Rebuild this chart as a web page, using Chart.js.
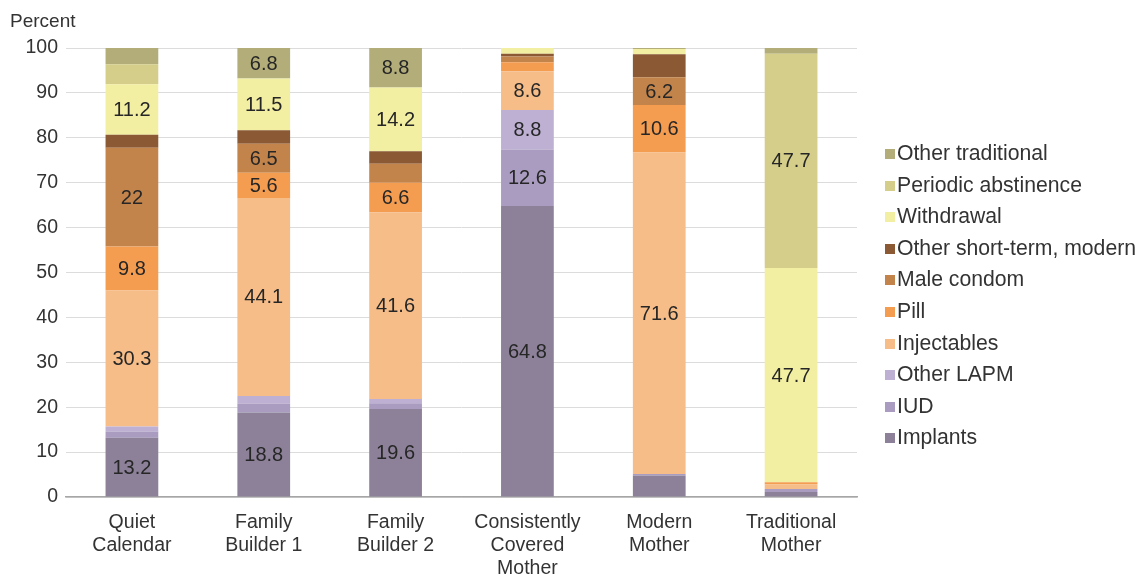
<!DOCTYPE html>
<html>
<head>
<meta charset="utf-8">
<script src="https://cdn.jsdelivr.net/npm/chart.js@4/dist/chart.umd.min.js"></script>
<style>
  body { margin: 0; background: #fff; font-family: "Liberation Sans", Arial, sans-serif; }
  #wrap { position: relative; width: 1139px; height: 576px; }
  #yTitle { position: absolute; left: 10px; top: 10px; font-size: 19px; color: #333; }
  #legend { position: absolute; left: 885px; top: 141px; list-style: none; margin: 0; padding: 0; }
  #legend li { height: 31.6px; line-height: 24px; font-size: 21.2px; color: #333; white-space: nowrap; }
  #legend span { display: inline-block; width: 10px; height: 10px; margin-right: 2px; vertical-align: 1px; }
</style>
</head>
<body>
<div id="wrap">
  <canvas id="myChart" width="1139" height="576"></canvas>
  <div id="yTitle">Percent</div>
  <ul id="legend"></ul>
</div>
<script>
'use strict';

let groups = [['Quiet', 'Calendar'], ['Family', 'Builder 1'], ['Family', 'Builder 2'],
  ['Consistently', 'Covered', 'Mother'], ['Modern', 'Mother'], ['Traditional', 'Mother']];

// methods, stacked from the bottom up
let methods = ['Implants', 'IUD', 'Other LAPM', 'Injectables', 'Pill', 'Male condom',
  'Other short-term, modern', 'Withdrawal', 'Periodic abstinence', 'Other traditional'];

let implants = [13.2, 18.8, 19.6, 64.8, 4.8, 1.1];
let iud = [1.4, 2.0, 1.3, 12.6, 0.3, 0.7];
let otherLapm = [1.1, 1.7, 0.9, 8.8, 0, 0];
let injectables = [30.3, 44.1, 41.6, 8.6, 71.6, 1.0];
let pill = [9.8, 5.6, 6.6, 2.0, 10.6, 0.5];
let maleCondom = [22, 6.5, 4.2, 1.3, 6.2, 0];
let otherShortTerm = [2.9, 3.0, 2.8, 0.6, 5.1, 0];
let withdrawal = [11.2, 11.5, 14.2, 1.3, 1.2, 47.7];
let periodic = [4.5, 0, 0, 0, 0, 47.7];
let otherTraditional = [3.6, 6.8, 8.8, 0, 0.2, 1.3];

let yTicks = [0, 10, 20, 30, 40, 50, 60, 70, 80, 90, 100];

let seriesValues = [implants, iud, otherLapm, injectables, pill, maleCondom,
  otherShortTerm, withdrawal, periodic, otherTraditional];
let colors = ['#8c8199', '#aa9cc0', '#bdb0d3', '#f6bd89', '#f49c50', '#c2844b',
  '#8b5a34', '#f2eea2', '#d4ce8a', '#b3ae79'];

// only segments this big get a value printed inside
let labelMin = 5.5;

let datasets = [];
for (let i = 0; i < methods.length; i++) {
  datasets.push({
    label: methods[i],
    data: seriesValues[i],
    backgroundColor: colors[i],
    borderWidth: 0,
    barPercentage: 0.4,
    categoryPercentage: 1
  });
}

let legendEl = document.getElementById('legend');
for (let i = methods.length - 1; i >= 0; i--) {
  let liEl = document.createElement('li');
  let box = document.createElement('span');
  box.style.background = colors[i];
  liEl.appendChild(box);
  liEl.appendChild(document.createTextNode(methods[i]));
  legendEl.appendChild(liEl);
}

let valueLabels = {
  id: 'valueLabels',
  afterDatasetsDraw(chart) {
    let ctx = chart.ctx;
    ctx.save();
    ctx.font = '20px "Liberation Sans", Arial, sans-serif';
    ctx.fillStyle = '#262626';
    ctx.textAlign = 'center';
    ctx.textBaseline = 'middle';
    chart.data.datasets.forEach(function (ds, i) {
      let meta = chart.getDatasetMeta(i);
      meta.data.forEach(function (bar, j) {
        let v = ds.data[j];
        if (v < labelMin) return;
        ctx.fillText(String(v), bar.x, (bar.y + bar.base) / 2 + 1);
      });
    });
    ctx.restore();
  }
};

Chart.defaults.font.family = '"Liberation Sans", Arial, sans-serif';
Chart.defaults.color = '#333';

let ctx = document.getElementById('myChart').getContext('2d');
let myChart = new Chart(ctx, {
  type: 'bar',
  data: { labels: groups, datasets: datasets },
  options: {
    responsive: false,
    animation: false,
    layout: { padding: { top: 48, right: 282, left: 0, bottom: 0 } },
    plugins: { legend: { display: false }, tooltip: { enabled: false } },
    scales: {
      x: {
        stacked: true,
        grid: { display: false },
        border: { color: '#a6a6a6', width: 1.5 },
        ticks: { font: { size: 19.5, lineHeight: 1.18 }, color: '#333', padding: 6, maxRotation: 0 },
        afterFit: function (scale) { scale.height = 79; }
      },
      y: {
        stacked: true,
        min: 0,
        max: 100,
        afterBuildTicks: function (scale) {
          scale.ticks = yTicks.map(function (v) { return { value: v }; });
        },
        grid: { color: '#dcdcdc', drawTicks: false },
        border: { display: false },
        ticks: { font: { size: 19.5 }, color: '#333', padding: 8 },
        afterFit: function (scale) { scale.width = 66; }
      }
    }
  },
  plugins: [valueLabels]
});
</script>
</body>
</html>
